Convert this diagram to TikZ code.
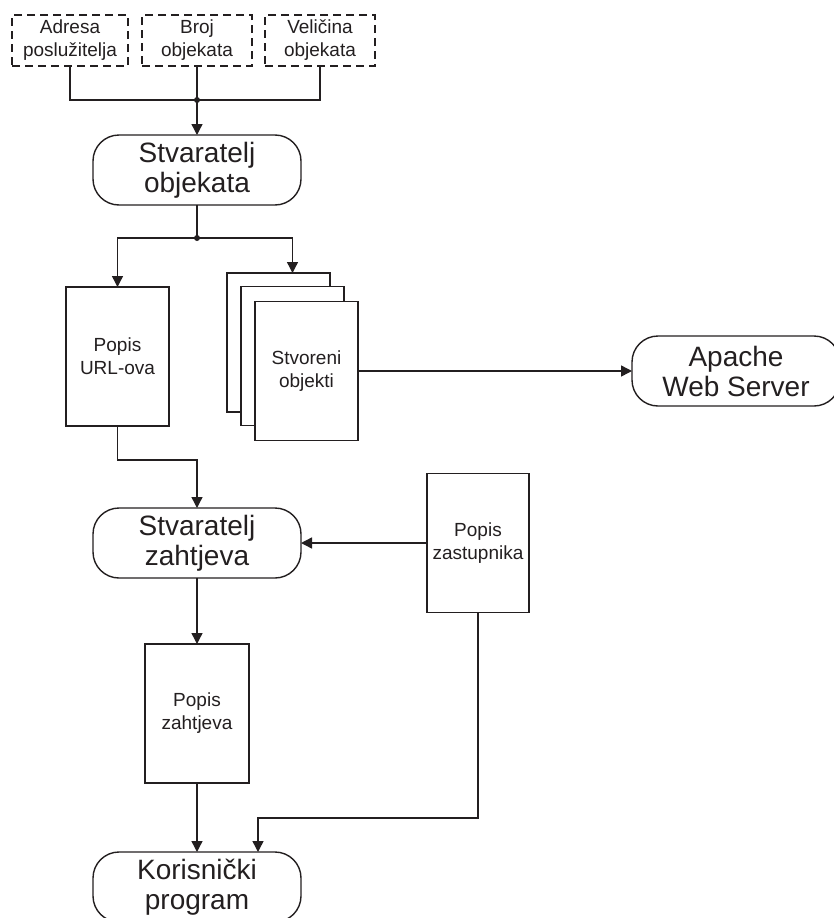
\documentclass[tikz,border=0pt]{standalone}
\usepackage{fontspec}
\setmainfont{Liberation Sans}
\usetikzlibrary{arrows.meta}
\definecolor{ink}{RGB}{35,31,32}
\begin{document}
\begin{tikzpicture}[x=1pt,y=-1pt,
  every node/.style={inner sep=0pt, outer sep=0pt, align=center, text=ink},
  smalltxt/.style={font=\fontsize{19}{23}\selectfont},
  bigtxt/.style={font=\fontsize{28}{30}\selectfont},
  param/.style={draw=ink, line width=1.4pt, dash pattern=on 8pt off 5pt,
    minimum height=51pt, smalltxt},
  proc/.style={draw=ink, line width=1.4pt, rounded corners=26pt,
    minimum width=208pt, minimum height=70pt, bigtxt},
  doc/.style={draw=ink, line width=1.4pt, fill=white,
    minimum width=103pt, minimum height=139pt, smalltxt},
  link/.style={draw=ink, line width=1.4pt},
  flow/.style={link, -{Triangle[length=11pt,width=11pt]}},
  junction/.style={fill=ink}
]
\useasboundingbox (0,0) rectangle (833,918);

% input parameters
\node[param, minimum width=116pt] (adresa) at (70,40.5) {Adresa\\poslužitelja};
\node[param, minimum width=110pt] (broj) at (197,40.5) {Broj\\objekata};
\node[param, minimum width=110pt] (velicina) at (320,40.5) {Veličina\\objekata};

% object generator
\node[proc] (so) at (197,170) {Stvaratelj\\objekata};

\coordinate (j1) at (197,100);
\draw[link] (adresa.south) |- (j1);
\draw[link] (velicina.south) |- (j1);
\draw[link] (broj.south) -- (j1);
\fill[junction] (j1) circle (3pt);
\draw[flow] (j1) -- (so.north);

% outputs of the object generator
\node[doc] (url) at (117.5,356.5) {Popis\\URL-ova};
\node[doc] (back) at (278.5,342.5) {};
\node[doc] (mid) at (292.5,356) {};
\node[doc] (front) at (306.5,371) {Stvoreni\\objekti};

\coordinate (j2) at (197,238);
\draw[link] (so.south) -- (j2);
\fill[junction] (j2) circle (3pt);
\draw[flow] (j2) -| (url.north);
\draw[flow] (j2) -| (mid.center |- back.north);

% web server
\node[proc] (apache) at (736,371) {Apache\\Web Server};
\draw[flow] (front.east) -- (apache.west);

% request generator
\node[proc] (sz) at (197,543) {Stvaratelj\\zahtjeva};
\node[doc, minimum width=102pt] (pz) at (478,543) {Popis\\zastupnika};
\draw[flow] (url.south) -- ++(0,34) -| (sz.north);
\draw[flow] (pz.west) -- (sz.east);

% request list and client program
\node[doc, minimum width=104pt] (pzh) at (197,713.5) {Popis\\zahtjeva};
\node[proc] (kp) at (197,887) {Korisnički\\program};
\draw[flow] (sz.south) -- (pzh.north);
\draw[flow] (pzh.south) -- (kp.north);

\coordinate (bend) at (258,818);
\draw[flow] (pz.south) |- (bend) -- (bend |- kp.north);
\end{tikzpicture}
\end{document}
